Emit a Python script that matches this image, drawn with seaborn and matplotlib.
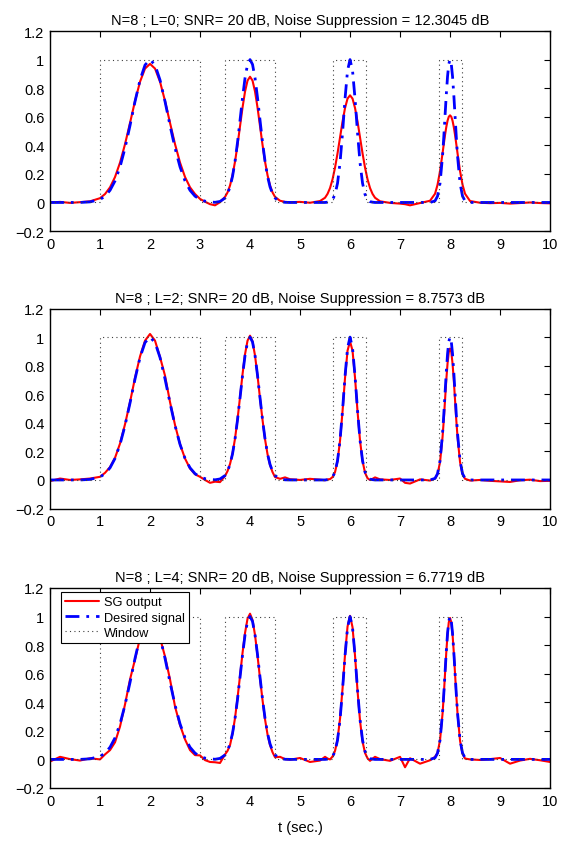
import matplotlib
matplotlib.use("Agg")
import matplotlib.pyplot as plt
from matplotlib.ticker import FuncFormatter
import seaborn as sns
import pandas as pd

# time grid (sec.), finer around the pulses
t = [0.0, 0.2, 0.4, 0.6, 0.8, 1.0,
     1.1, 1.2, 1.3, 1.4, 1.5, 1.6, 1.7, 1.8, 1.9, 2.0, 2.1, 2.2, 2.3, 2.4, 2.5, 2.6, 2.7, 2.8, 2.9,
     3.0, 3.1, 3.2, 3.3, 3.4,
     3.5, 3.55, 3.6, 3.65, 3.7, 3.75, 3.8, 3.85, 3.9, 3.95, 4.0, 4.05, 4.1, 4.15, 4.2, 4.25, 4.3, 4.35, 4.4, 4.45, 4.5,
     4.6, 4.7, 4.8, 5.0, 5.2, 5.4,
     5.5, 5.55, 5.6, 5.65, 5.7, 5.75, 5.8, 5.85, 5.9, 5.95, 6.0, 6.05, 6.1, 6.15, 6.2, 6.25, 6.3, 6.35, 6.4, 6.45, 6.5,
     6.6, 6.8, 7.0, 7.1, 7.2, 7.4, 7.6,
     7.7, 7.75, 7.8, 7.85, 7.875, 7.9, 7.925, 7.95, 7.975, 8.0, 8.025, 8.05, 8.075, 8.1, 8.125, 8.15, 8.2, 8.25, 8.3,
     8.4, 8.6, 8.8, 9.0, 9.2, 9.4, 9.6, 9.8, 10.0]

desired = [0.0, 0.0, 0.0, 0.0, 0.004, 0.021,
           0.044, 0.085, 0.151, 0.249, 0.381, 0.539, 0.707, 0.857, 0.962, 1.0, 0.962, 0.857, 0.707, 0.539, 0.381, 0.249, 0.151, 0.085, 0.044,
           0.021, 0.009, 0.004, 0.001, 0.007,
           0.031, 0.061, 0.109, 0.183, 0.288, 0.421, 0.575, 0.732, 0.871, 0.966, 1.0, 0.966, 0.871, 0.732, 0.575, 0.421, 0.288, 0.183, 0.109, 0.061, 0.031,
           0.007, 0.001, 0.0, 0.0, 0.0, 0.0,
           0.0, 0.002, 0.006, 0.020, 0.056, 0.135, 0.278, 0.487, 0.726, 0.923, 1.0, 0.923, 0.726, 0.487, 0.278, 0.135, 0.056, 0.020, 0.006, 0.002, 0.0,
           0.0, 0.0, 0.0, 0.0, 0.0, 0.0, 0.0,
           0.011, 0.044, 0.135, 0.325, 0.458, 0.607, 0.755, 0.882, 0.969, 1.0, 0.969, 0.882, 0.755, 0.607, 0.458, 0.325, 0.135, 0.044, 0.011,
           0.0, 0.0, 0.0, 0.0, 0.0, 0.0, 0.0, 0.0, 0.0]

sg_L0 = [0.0, 0.004, -0.003, 0.002, 0.008, 0.030,
         0.059, 0.106, 0.178, 0.279, 0.408, 0.557, 0.710, 0.845, 0.937, 0.970, 0.937, 0.845, 0.710, 0.557, 0.408, 0.279, 0.178, 0.106, 0.059,
         0.025, 0.005, -0.012, -0.020, 0.002,
         0.039, 0.070, 0.119, 0.191, 0.286, 0.403, 0.534, 0.664, 0.776, 0.853, 0.880, 0.853, 0.776, 0.664, 0.534, 0.403, 0.286, 0.191, 0.119, 0.070, 0.039,
         0.012, 0.004, 0.002, 0.004, -0.002, 0.010,
         0.033, 0.060, 0.101, 0.162, 0.244, 0.344, 0.455, 0.566, 0.661, 0.727, 0.750, 0.727, 0.661, 0.566, 0.455, 0.344, 0.244, 0.162, 0.101, 0.060, 0.033,
         0.008, -0.003, -0.008, -0.012, -0.020, -0.004, 0.012,
         0.061, 0.124, 0.220, 0.344, 0.409, 0.473, 0.528, 0.572, 0.600, 0.610, 0.600, 0.572, 0.528, 0.473, 0.409, 0.344, 0.220, 0.124, 0.061,
         0.010, -0.002, -0.005, -0.003, -0.008, -0.004, 0.0, -0.004, -0.006]

sg_L2 = [-0.008, 0.010, 0.0, 0.004, 0.010, 0.022,
         0.050, 0.090, 0.155, 0.255, 0.390, 0.545, 0.715, 0.865, 0.975, 1.022, 0.975, 0.860, 0.730, 0.545, 0.385, 0.250, 0.150, 0.080, 0.040,
         0.022, 0.0, -0.020, -0.012, -0.015,
         0.028, 0.062, 0.112, 0.185, 0.290, 0.425, 0.580, 0.740, 0.880, 0.975, 1.010, 0.970, 0.870, 0.730, 0.570, 0.420, 0.285, 0.180, 0.105, 0.055, 0.020,
         0.008, 0.018, 0.005, 0.0, 0.008, 0.002,
         -0.002, 0.004, 0.006, 0.020, 0.055, 0.133, 0.275, 0.480, 0.715, 0.905, 0.970, 0.905, 0.715, 0.480, 0.275, 0.133, 0.050, 0.012, 0.0, 0.008, 0.018,
         0.004, 0.0, 0.010, -0.020, -0.025, 0.004, -0.004,
         0.010, 0.040, 0.125, 0.300, 0.420, 0.560, 0.700, 0.815, 0.895, 0.920, 0.895, 0.815, 0.700, 0.560, 0.420, 0.300, 0.125, 0.040, 0.008,
         -0.004, 0.0, -0.006, -0.010, -0.014, -0.002, 0.002, -0.008, -0.006]

sg_L4 = [-0.015, 0.018, 0.002, -0.008, 0.008, 0.0,
         0.035, 0.065, 0.120, 0.230, 0.385, 0.560, 0.700, 0.850, 0.960, 1.0, 0.960, 0.850, 0.720, 0.560, 0.370, 0.240, 0.140, 0.065, 0.030,
         0.028, -0.005, -0.018, -0.020, -0.025,
         0.035, 0.060, 0.100, 0.180, 0.290, 0.430, 0.585, 0.745, 0.885, 0.985, 1.020, 0.975, 0.870, 0.725, 0.565, 0.415, 0.280, 0.175, 0.100, 0.050, 0.015,
         0.018, 0.002, -0.002, 0.010, -0.018, -0.008,
         0.018, 0.006, 0.0, 0.020, 0.060, 0.140, 0.285, 0.495, 0.735, 0.930, 1.005, 0.925, 0.725, 0.480, 0.270, 0.125, 0.045, 0.008, -0.010, 0.005, 0.018,
         0.002, -0.010, 0.018, -0.055, 0.008, -0.030, -0.006,
         0.018, 0.045, 0.135, 0.320, 0.450, 0.600, 0.750, 0.875, 0.960, 0.990, 0.960, 0.875, 0.750, 0.600, 0.450, 0.320, 0.130, 0.040, 0.006,
         0.0, -0.004, 0.002, 0.010, -0.030, -0.008, 0.004, -0.006, -0.018]

# rectangular windows around each pulse
win_start = [1.0, 3.5, 5.65, 7.77]
win_end = [3.0, 4.5, 6.32, 8.23]

L_values = [0, 2, 4]
suppression = ["12.3045", "8.7573", "6.7719"]
outputs = [sg_L0, sg_L2, sg_L4]

# window as a step polyline
t_win, w_win = [0.0], [0.0]
for s, e in zip(win_start, win_end):
    t_win += [s, s, e, e]
    w_win += [0.0, 1.0, 1.0, 0.0]
t_win.append(10.0)
w_win.append(0.0)

sns.set_style("white")
plt.rcParams['font.family'] = ['Liberation Sans', 'DejaVu Sans']
plt.rcParams['text.color'] = 'black'
plt.rcParams['axes.labelcolor'] = 'black'

fig = plt.figure(figsize=(5.71, 8.45), dpi=100)
bottoms = [0.7254, 0.3970, 0.0663]

for i, (L, sup, sg) in enumerate(zip(L_values, suppression, outputs)):
    ax = fig.add_axes([0.0876, bottoms[i], 0.8757, 0.2367])
    df = pd.DataFrame({"t": t, "desired": desired, "sg": sg})
    sns.lineplot(data=df, x="t", y="sg", ax=ax, color="red", lw=1.5,
                 estimator=None, sort=False, label="SG output")
    sns.lineplot(data=df, x="t", y="desired", ax=ax, color="blue", lw=2.0,
                 ls=(0, (5, 2.5, 1, 2.5)), estimator=None, sort=False,
                 label="Desired signal")
    sns.lineplot(x=t_win, y=w_win, ax=ax, color="0.25", lw=0.8, ls=(0, (1, 3)),
                 estimator=None, sort=False, label="Window")

    ax.set_xlim(0, 10)
    ax.set_ylim(-0.2, 1.2)
    ax.set_xticks(range(0, 11))
    ax.set_yticks([-0.2, 0, 0.2, 0.4, 0.6, 0.8, 1.0, 1.2])
    ax.yaxis.set_major_formatter(
        FuncFormatter(lambda v, p: ("%g" % round(v, 1)).replace("-", "\u2212")))
    ax.tick_params(direction="in", length=4, width=0.8, top=True, right=True,
                   labelsize=10.5, colors="black", pad=4)
    for sp in ax.spines.values():
        sp.set_linewidth(1.0)
        sp.set_color("black")
    ax.set_xlabel("")
    ax.set_ylabel("")
    ax.set_title("N=8 ; L=%d; SNR= 20 dB, Noise Suppression = %s dB" % (L, sup),
                 fontsize=10.5, pad=5, color="black")
    if i == 2:
        ax.set_xlabel("t (sec.)", fontsize=10.5, labelpad=9)
        leg = ax.legend(loc="upper left", bbox_to_anchor=(0.022, 0.98), fontsize=9.2,
                        handlelength=2.6, borderpad=0.35, labelspacing=0.25,
                        handletextpad=0.4, borderaxespad=0.0, fancybox=False,
                        framealpha=1.0)
        leg.get_frame().set_edgecolor("black")
        leg.get_frame().set_linewidth(0.8)
    else:
        ax.get_legend().remove()

fig.savefig("out.png", dpi=100)
